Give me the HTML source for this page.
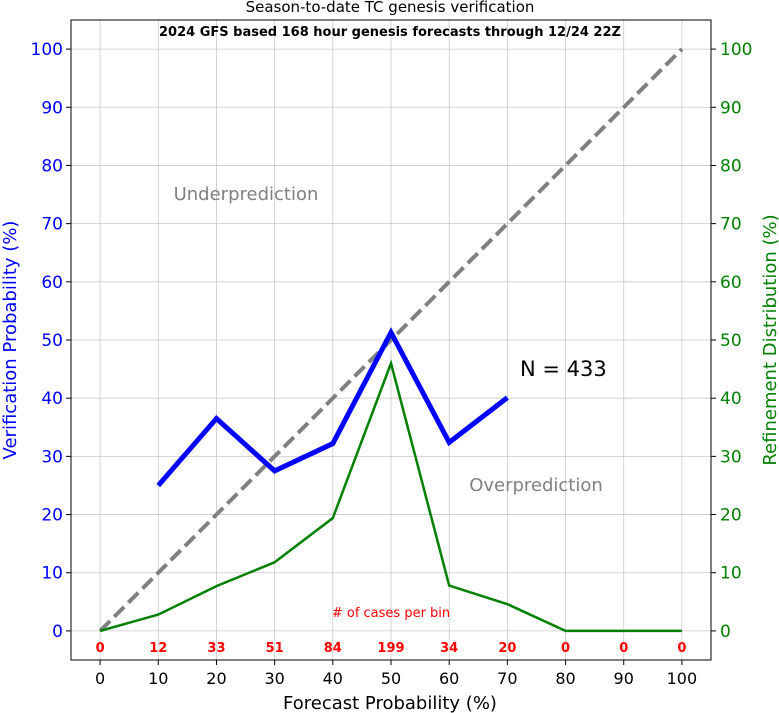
<!DOCTYPE html>
<html><head><meta charset="utf-8">
<style>
html,body{margin:0;padding:0;background:#fff;}
svg{display:block;font-family:"DejaVu Sans","Liberation Sans",sans-serif;}
</style></head>
<body>
<svg id="chart" width="779" height="713" viewBox="0 0 779 713">
  <text x="390" y="12" text-anchor="middle" font-size="15" fill="#000">Season-to-date TC genesis verification</text>
  <g id="grid"></g>
  <g id="axes"></g>
  <g id="marks"></g>
  <rect x="71" y="20" width="640" height="640" fill="none" stroke="#000" stroke-width="1"/>
  <text x="390" y="36" text-anchor="middle" font-size="13" font-weight="bold" fill="#000">2024 GFS based 168 hour genesis forecasts through 12/24 22Z</text>
  <text x="246" y="200" text-anchor="middle" font-size="18" fill="#808080">Underprediction</text>
  <text x="536" y="491" text-anchor="middle" font-size="18" fill="#808080">Overprediction</text>
  <text x="520" y="376" font-size="21" fill="#000">N = 433</text>
  <text x="391" y="617" text-anchor="middle" font-size="13" fill="red"># of cases per bin</text>
  <text x="390" y="709" text-anchor="middle" font-size="18" fill="#000">Forecast Probability (%)</text>
  <text transform="translate(16,340) rotate(-90)" text-anchor="middle" font-size="18" fill="blue">Verification Probability (%)</text>
  <text transform="translate(776,340) rotate(-90)" text-anchor="middle" font-size="18" fill="green">Refinement Distribution (%)</text>
</svg>
<script>
const bins = [0,10,20,30,40,50,60,70,80,90,100];
const verifX = [10,20,30,40,50,60,70];
const verifY = [25.0,36.5,27.5,32.2,51.3,32.4,40.1];
const refineY = [0,2.8,7.7,11.8,19.4,46.0,7.8,4.6,0,0,0];
const counts = [0,12,33,51,84,199,34,20,0,0,0];
const ticks = [0,10,20,30,40,50,60,70,80,90,100];

const NS="http://www.w3.org/2000/svg";
const L=71,R=711,T=20,B=660;
const xs=v=>L+(v+5)/110*(R-L);
const ys=v=>B-(v+5)/110*(B-T);
function mk(tag,attrs,parent,text){const e=document.createElementNS(NS,tag);for(const k in attrs)e.setAttribute(k,attrs[k]);if(text!==undefined)e.textContent=text;parent.appendChild(e);return e;}
const grid=document.getElementById('grid'),axes=document.getElementById('axes'),marks=document.getElementById('marks');
ticks.forEach(t=>{
  let g=mk('line',{x1:xs(t),x2:xs(t),y1:T,y2:B,stroke:'#c8c8c8','stroke-width':0.8},grid);
  
  
  g=mk('line',{x1:L,x2:R,y1:ys(t),y2:ys(t),stroke:'#c8c8c8','stroke-width':0.8},grid);
  
  
  let e=mk('line',{x1:xs(t),x2:xs(t),y1:B,y2:B+5,stroke:'#000'},axes);
  
  
  e=mk('text',{x:xs(t),y:B+24,'text-anchor':'middle','font-size':16,fill:'#000'},axes,String(t));
  
  
  e=mk('line',{x1:L-5,x2:L,y1:ys(t),y2:ys(t),stroke:'#000'},axes);
  
  
  e=mk('text',{x:L-8,y:ys(t)+6,'text-anchor':'end','font-size':17,fill:'blue'},axes,String(t));
  
  
  e=mk('line',{x1:R,x2:R+5,y1:ys(t),y2:ys(t),stroke:'#000'},axes);
  
  
  e=mk('text',{x:R+9,y:ys(t)+6,'text-anchor':'start','font-size':17,fill:'green'},axes,String(t));
  
  
});
let d=mk('line',{x1:xs(0),y1:ys(0),x2:xs(100),y2:ys(100),stroke:'#808080','stroke-width':4,'stroke-dasharray':'14,6'},marks);


let p=mk('polyline',{points:bins.map((b,i)=>xs(b)+','+ys(refineY[i])).join(' '),fill:'none',stroke:'green','stroke-width':2.5},marks);


p=mk('polyline',{points:verifX.map((b,i)=>xs(b)+','+ys(verifY[i])).join(' '),fill:'none',stroke:'blue','stroke-width':5},marks);


bins.forEach((b,i)=>{
  const t=mk('text',{x:xs(b),y:652,'text-anchor':'middle','font-size':13,'font-weight':'bold',fill:'red'},marks,String(counts[i]));
  
  
});
</script>
</body></html>
